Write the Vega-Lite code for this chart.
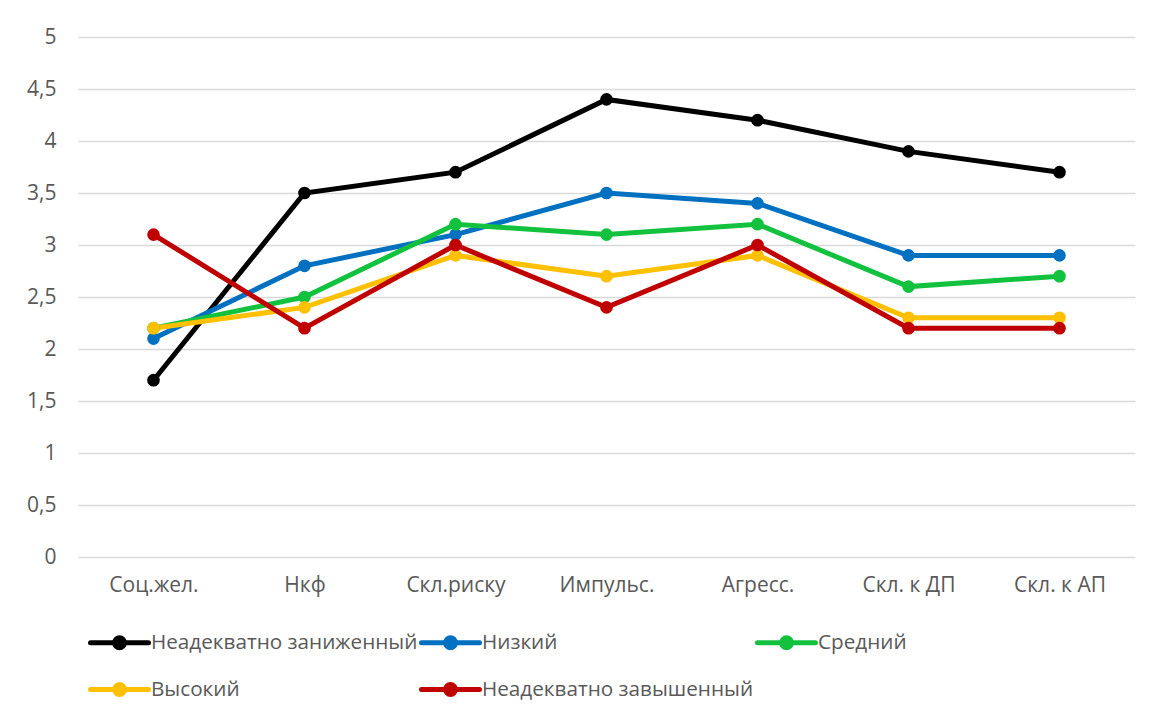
{
  "$schema": "https://vega.github.io/schema/vega-lite/v6.json",
  "width": 1057,
  "height": 520,
  "autosize": {"type": "none"},
  "padding": {"left": 78, "top": 37, "right": 27, "bottom": 158},
  "background": "white",
  "config": {
    "locale": {"number": {"decimal": ",", "thousands": " ", "grouping": [3], "currency": ["", " ₽"]}},
    "view": {"stroke": null},
    "font": "Open Sans"
  },
  "data": {
    "values": [
      {"cat": "Соц.жел.", "series": "Неадекватно заниженный", "value": 1.7},
      {"cat": "Нкф", "series": "Неадекватно заниженный", "value": 3.5},
      {"cat": "Скл.риску", "series": "Неадекватно заниженный", "value": 3.7},
      {"cat": "Импульс.", "series": "Неадекватно заниженный", "value": 4.4},
      {"cat": "Агресс.", "series": "Неадекватно заниженный", "value": 4.2},
      {"cat": "Скл. к ДП", "series": "Неадекватно заниженный", "value": 3.9},
      {"cat": "Скл. к АП", "series": "Неадекватно заниженный", "value": 3.7},
      {"cat": "Соц.жел.", "series": "Низкий", "value": 2.1},
      {"cat": "Нкф", "series": "Низкий", "value": 2.8},
      {"cat": "Скл.риску", "series": "Низкий", "value": 3.1},
      {"cat": "Импульс.", "series": "Низкий", "value": 3.5},
      {"cat": "Агресс.", "series": "Низкий", "value": 3.4},
      {"cat": "Скл. к ДП", "series": "Низкий", "value": 2.9},
      {"cat": "Скл. к АП", "series": "Низкий", "value": 2.9},
      {"cat": "Соц.жел.", "series": "Средний", "value": 2.2},
      {"cat": "Нкф", "series": "Средний", "value": 2.5},
      {"cat": "Скл.риску", "series": "Средний", "value": 3.2},
      {"cat": "Импульс.", "series": "Средний", "value": 3.1},
      {"cat": "Агресс.", "series": "Средний", "value": 3.2},
      {"cat": "Скл. к ДП", "series": "Средний", "value": 2.6},
      {"cat": "Скл. к АП", "series": "Средний", "value": 2.7},
      {"cat": "Соц.жел.", "series": "Высокий", "value": 2.2},
      {"cat": "Нкф", "series": "Высокий", "value": 2.4},
      {"cat": "Скл.риску", "series": "Высокий", "value": 2.9},
      {"cat": "Импульс.", "series": "Высокий", "value": 2.7},
      {"cat": "Агресс.", "series": "Высокий", "value": 2.9},
      {"cat": "Скл. к ДП", "series": "Высокий", "value": 2.3},
      {"cat": "Скл. к АП", "series": "Высокий", "value": 2.3},
      {"cat": "Соц.жел.", "series": "Неадекватно завышенный", "value": 3.1},
      {"cat": "Нкф", "series": "Неадекватно завышенный", "value": 2.2},
      {"cat": "Скл.риску", "series": "Неадекватно завышенный", "value": 3.0},
      {"cat": "Импульс.", "series": "Неадекватно завышенный", "value": 2.4},
      {"cat": "Агресс.", "series": "Неадекватно завышенный", "value": 3.0},
      {"cat": "Скл. к ДП", "series": "Неадекватно завышенный", "value": 2.2},
      {"cat": "Скл. к АП", "series": "Неадекватно завышенный", "value": 2.2}
    ]
  },
  "mark": {"type": "line", "strokeWidth": 5, "point": {"filled": true, "size": 160}},
  "encoding": {
    "x": {
      "field": "cat",
      "type": "nominal",
      "sort": ["Соц.жел.", "Нкф", "Скл.риску", "Импульс.", "Агресс.", "Скл. к ДП", "Скл. к АП"],
      "scale": {"type": "point", "padding": 0.5},
      "axis": {
        "title": null,
        "domain": false,
        "ticks": false,
        "grid": false,
        "labelAngle": 0,
        "labelFontSize": 21,
        "labelColor": "#595959",
        "labelPadding": 17,
        "labelFont": "Open Sans"
      }
    },
    "y": {
      "field": "value",
      "type": "quantitative",
      "scale": {"domain": [0, 5], "nice": false, "zero": true},
      "axis": {
        "title": null,
        "values": [0, 0.5, 1, 1.5, 2, 2.5, 3, 3.5, 4, 4.5, 5],
        "format": ".1~f",
        "domain": false,
        "ticks": false,
        "gridColor": "#d9d9d9",
        "gridWidth": 1.5,
        "labelFontSize": 21,
        "labelColor": "#595959",
        "labelPadding": 22,
        "labelFont": "Open Sans"
      }
    },
    "color": {
      "field": "series",
      "type": "nominal",
      "sort": ["Неадекватно заниженный", "Низкий", "Средний", "Высокий", "Неадекватно завышенный"],
      "scale": {
        "domain": ["Неадекватно заниженный", "Низкий", "Средний", "Высокий", "Неадекватно завышенный"],
        "range": ["#000000", "#0070C0", "#12C23F", "#FFC000", "#C00000"]
      },
      "legend": {
        "title": null,
        "orient": "none",
        "legendX": 10,
        "legendY": 574,
        "direction": "horizontal",
        "columns": 3,
        "columnPadding": -7,
        "rowPadding": 0,
        "symbolType": "M-1,0L1,0M-0.17,0A0.17,0.17,0,1,1,0.17,0A0.17,0.17,0,1,1,-0.17,0Z",
        "symbolSize": 3364,
        "symbolStrokeWidth": 5,
        "labelFontSize": 20.7,
        "labelColor": "#595959",
        "labelOffset": 0,
        "labelLimit": 400,
        "labelFont": "Open Sans",
        "encode": {
          "symbols": {
            "update": {
              "fill": {"scale": "color", "field": "value"},
              "stroke": {"scale": "color", "field": "value"},
              "fillOpacity": {"value": 1},
              "strokeCap": {"value": "round"}
            }
          }
        }
      }
    }
  }
}
